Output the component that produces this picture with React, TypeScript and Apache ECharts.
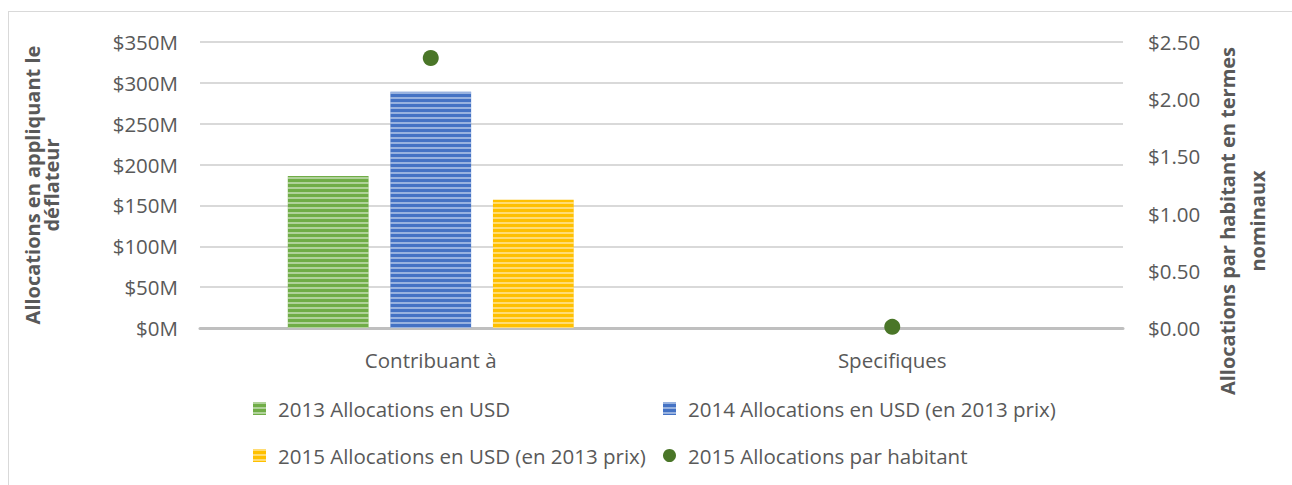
import React, { useEffect, useRef } from "react";
import * as echarts from "echarts";

const categories = ["Contribuant à", "Specifiques"];
const alloc2013 = [186, null];
const alloc2014 = [289, null];
const alloc2015 = [157, null];
const perCapita2015 = [2.36, 0.01];
const leftTicks = { min: 0, max: 350, interval: 50 };
const rightTicks = { min: 0, max: 2.5, interval: 0.5 };
const seriesNames = [
  "2013 Allocations en USD",
  "2014 Allocations en USD (en 2013 prix)",
  "2015 Allocations en USD (en 2013 prix)",
  "2015 Allocations par habitant",
];

const FONT = "'Open Sans', sans-serif";
const TXT = "#595959";
const FS = 20.5;

const decal = {
  symbol: "rect",
  symbolSize: 1,
  dashArrayX: [1, 0],
  dashArrayY: [2, 3],
  color: "rgba(255,255,255,0.45)",
  rotation: 0,
};

export default function App() {
  const ref = useRef<HTMLDivElement>(null);
  useEffect(() => {
    document.body.style.overflow = "hidden";
    const chart = echarts.init(ref.current!, null, { renderer: "svg" });
    const legendItem = (name: string, left: number, top: number, icon?: string) => ({
      show: true,
      data: [icon ? { name, icon } : { name }],
      left,
      top,
      padding: 0,
      itemWidth: 13,
      itemHeight: 13,
      itemGap: 12,
      textStyle: { fontFamily: FONT, fontSize: FS, color: TXT, padding: [0, 0, 0, 7] },
      selectedMode: false,
    });
    chart.setOption({
      animation: false,
      textStyle: { fontFamily: FONT },
      grid: { left: 191, width: 923, top: 30, height: 286, containLabel: false },
      legend: [
        legendItem(seriesNames[0], 244, 386, "rect"),
        legendItem(seriesNames[1], 654, 386, "rect"),
        legendItem(seriesNames[2], 244, 433, "rect"),
        legendItem(seriesNames[3], 654, 433, "circle"),
      ],
      xAxis: {
        type: "category",
        data: categories,
        axisLine: { show: true, lineStyle: { color: "#bfbfbf", width: 3 } },
        axisTick: { show: false },
        axisLabel: { color: TXT, fontSize: FS, fontFamily: FONT, margin: 21 },
      },
      yAxis: [
        {
          type: "value",
          ...leftTicks,
          axisLine: { show: false },
          axisTick: { show: false },
          splitLine: { lineStyle: { color: "#d9d9d9", width: 2 } },
          axisLabel: {
            color: TXT,
            fontSize: FS,
            fontFamily: FONT,
            margin: 22,
            formatter: (v: number) => `$${v}M`,
          },
        },
        {
          type: "value",
          ...rightTicks,
          axisLine: { show: false },
          axisTick: { show: false },
          splitLine: { show: false },
          axisLabel: {
            color: TXT,
            fontSize: FS,
            fontFamily: FONT,
            margin: 25,
            formatter: (v: number) => `$${v.toFixed(2)}`,
          },
        },
      ],
      graphic: [
        {
          type: "text",
          x: 33,
          y: 173,
          rotation: Math.PI / 2,
          style: {
            text: "Allocations en appliquant le\ndéflateur",
            fontFamily: FONT,
            fontSize: 20,
            fontWeight: "bold",
            fill: TXT,
            align: "center",
            verticalAlign: "middle",
            lineHeight: 19,
          },
        },
        {
          type: "text",
          x: 1233,
          y: 209,
          rotation: Math.PI / 2,
          style: {
            text: "Allocations par habitant en termes\nnominaux",
            fontFamily: FONT,
            fontSize: 20,
            fontWeight: "bold",
            fill: TXT,
            align: "center",
            verticalAlign: "middle",
            lineHeight: 30,
          },
        },
      ],
      series: [
        {
          name: seriesNames[0],
          type: "bar",
          data: alloc2013,
          barWidth: "17.5%",
          barGap: "27%",
          itemStyle: { color: "#70ad47", decal },
        },
        {
          name: seriesNames[1],
          type: "bar",
          data: alloc2014,
          barWidth: "17.5%",
          barGap: "27%",
          itemStyle: { color: "#4472c4", decal },
        },
        {
          name: seriesNames[2],
          type: "bar",
          data: alloc2015,
          barWidth: "17.5%",
          barGap: "27%",
          itemStyle: { color: "#ffc000", decal },
        },
        {
          name: seriesNames[3],
          type: "scatter",
          yAxisIndex: 1,
          data: perCapita2015,
          symbolSize: 16,
          itemStyle: { color: "#4a7628", opacity: 1 },
          z: 5,
        },
      ],
    });
    return () => chart.dispose();
  }, []);
  return (
    <div
      ref={ref}
      style={{
        position: "absolute",
        left: 8,
        top: 11,
        width: 1300,
        height: 480,
        borderLeft: "1px solid #d9d9d9",
        borderTop: "1px solid #d9d9d9",
      }}
    />
  );
}
